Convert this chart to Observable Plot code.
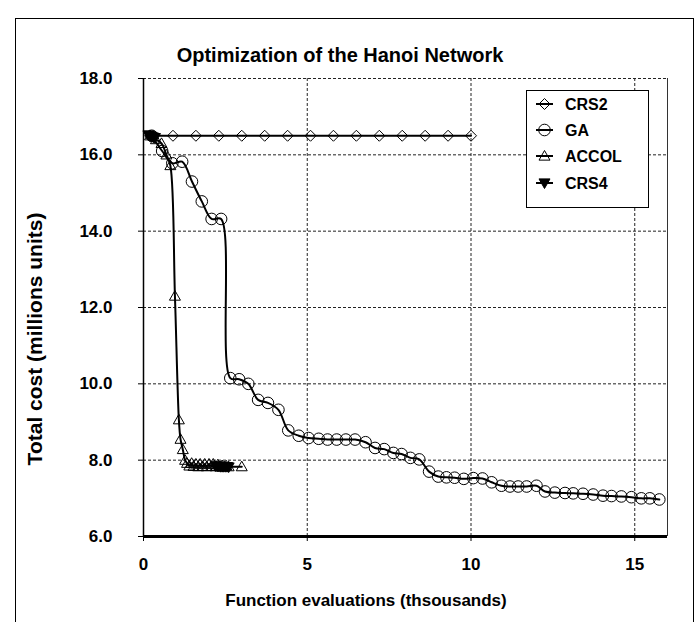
<!DOCTYPE html>
<html>
<head>
<meta charset="utf-8">
<script src="https://cdn.jsdelivr.net/npm/d3@7"></script>
<script src="https://cdn.jsdelivr.net/npm/@observablehq/plot@0.6"></script>
<style>
html, body { margin: 0; padding: 0; background: #fff; overflow: hidden; width: 698px; height: 622px; }
body { position: relative; font-family: "Liberation Sans", Arial, sans-serif; }
#frame { position: absolute; left: 15px; top: 18px; width: 679px; height: 700px; border: 1px solid #000; box-sizing: border-box; }
#chart { position: absolute; left: 0; top: 0; }
#overlay { position: absolute; left: 0; top: 0; }
</style>
</head>
<body>
<div id="frame"></div>
<div id="chart"></div>
<svg id="overlay" width="698" height="622"></svg>
<script>
// ---- data ----
const titleText = "Optimization of the Hanoi Network";
const xLabel = "Function evaluations (thsousands)";
const yLabel = "Total cost (millions units)";
const seriesNames = ["CRS2", "GA", "ACCOL", "CRS4"];
const xTicks = [0, 5, 10, 15];
const yTicks = [6, 8, 10, 12, 14, 16, 18];

const crs2X = [0.2, 0.9, 1.6, 2.3, 3.0, 3.7, 4.4, 5.1, 5.8, 6.5, 7.2, 7.9, 8.6, 9.3, 10.0];
const crs2Y = [16.5, 16.5, 16.5, 16.5, 16.5, 16.5, 16.5, 16.5, 16.5, 16.5, 16.5, 16.5, 16.5, 16.5, 16.5];

const gaX = [0.25, 0.57, 0.88, 1.18, 1.48, 1.78, 2.08, 2.37, 2.65, 2.92, 3.2, 3.5, 3.8, 4.12, 4.42, 4.74, 5.04, 5.35, 5.62, 5.9, 6.18, 6.46, 6.78, 7.07, 7.35, 7.63, 7.88, 8.15, 8.42, 8.72, 9.0, 9.25, 9.5, 9.78, 10.07, 10.35, 10.63, 10.93, 11.19, 11.44, 11.7, 12.0, 12.26, 12.56, 12.87, 13.12, 13.42, 13.73, 14.03, 14.29, 14.59, 14.9, 15.2, 15.46, 15.75];
const gaY = [16.5, 16.1, 15.78, 15.82, 15.3, 14.78, 14.32, 14.32, 10.15, 10.12, 10.0, 9.58, 9.5, 9.32, 8.78, 8.64, 8.58, 8.56, 8.54, 8.54, 8.54, 8.54, 8.47, 8.32, 8.29, 8.19, 8.16, 8.06, 8.02, 7.7, 7.57, 7.55, 7.54, 7.51, 7.53, 7.52, 7.42, 7.33, 7.31, 7.31, 7.31, 7.33, 7.18, 7.15, 7.14, 7.13, 7.12, 7.1, 7.07, 7.06, 7.05, 7.03, 7.0, 7.0, 6.97];

const accolX = [0.2, 0.38, 0.55, 0.7, 0.82, 0.96, 1.08, 1.13, 1.2, 1.27, 1.33, 1.4, 1.47, 1.53, 1.6, 1.67, 1.73, 1.8, 1.87, 1.93, 2.0, 2.07, 2.13, 2.2, 2.27, 2.33, 2.4, 2.47, 2.53, 2.6, 3.0];
const accolY = [16.5, 16.4, 16.3, 16.0, 15.72, 12.3, 9.06, 8.55, 8.28, 8.0, 7.92, 7.85, 7.92, 7.84, 7.9, 7.83, 7.9, 7.84, 7.9, 7.83, 7.9, 7.84, 7.9, 7.83, 7.88, 7.83, 7.86, 7.83, 7.85, 7.83, 7.83];

const crs4X = [0.15, 0.2, 0.25, 0.3, 0.35, null, 2.2, 2.25, 2.3, 2.35, 2.4, 2.45, 2.5, 2.55, 2.6];
const crs4Y = [16.52, 16.5, 16.48, 16.46, 16.45, null, 7.85, 7.84, 7.84, 7.83, 7.83, 7.83, 7.83, 7.83, 7.82];

// ---- symbols ----
const rOf = (size) => Math.sqrt(size / Math.PI);
const diamondSym = { draw(ctx, size) { const r = rOf(size); ctx.moveTo(0, -r); ctx.lineTo(r, 0); ctx.lineTo(0, r); ctx.lineTo(-r, 0); ctx.closePath(); } };
const triUpSym = { draw(ctx, size) { const r = rOf(size); ctx.moveTo(0, -r); ctx.lineTo(r, r * 0.75); ctx.lineTo(-r, r * 0.75); ctx.closePath(); } };
const triDownSym = { draw(ctx, size) { const r = rOf(size); ctx.moveTo(0, r); ctx.lineTo(r, -r * 0.75); ctx.lineTo(-r, -r * 0.75); ctx.closePath(); } };

const rows = (xs, ys) => xs.map((x, i) => ({ x: x == null ? NaN : x, y: ys[i] == null ? NaN : ys[i] }));
const crs2 = rows(crs2X, crs2Y);
const ga = rows(gaX, gaY);
const accol = rows(accolX, accolY);
const crs4 = rows(crs4X, crs4Y);

const styleSpec = [
  { data: crs2, symbol: diamondSym, r: 5.5, fill: "none" },
  { data: ga, symbol: "circle", r: 5.8, fill: "none" },
  { data: accol, symbol: triUpSym, r: 5.5, fill: "none" },
  { data: crs4, symbol: triDownSym, r: 5.5, fill: "#000" }
];

const gridStyle = { stroke: "#222", strokeOpacity: 1, strokeWidth: 1, strokeDasharray: "3,2" };

const marks = [
  Plot.gridY(yTicks, gridStyle),
  Plot.gridX([5, 10, 15], gridStyle),
  Plot.ruleX([16], { stroke: "#333", strokeWidth: 1 })
];
for (const s of styleSpec) {
  marks.push(Plot.line(s.data, { x: "x", y: "y", stroke: "#000", strokeWidth: 2, curve: "catmull-rom" }));
  marks.push(Plot.dot(s.data, { x: "x", y: "y", symbol: s.symbol, r: s.r, stroke: "#000", strokeWidth: 1, fill: s.fill }));
}
marks.push(
  Plot.ruleX([0], { stroke: "#000", strokeWidth: 1.5 }),
  Plot.ruleY([6], { stroke: "#000", strokeWidth: 3 }),
  Plot.axisY({ ticks: yTicks, tickFormat: (d) => d.toFixed(1), tickSize: 5, tickPadding: 26, fontSize: 17, fontWeight: "bold", label: null }),
  Plot.axisX({ ticks: xTicks, tickFormat: (d) => String(d), tickSize: 5, tickPadding: 16, fontSize: 17, fontWeight: "bold", label: null })
);

const chart = Plot.plot({
  width: 698,
  height: 622,
  marginLeft: 143,
  marginRight: 31,
  marginTop: 78,
  marginBottom: 86,
  x: { domain: [0, 16], label: null },
  y: { domain: [6, 18], label: null },
  style: { fontFamily: "'Liberation Sans', Arial, sans-serif", fontWeight: "bold", fontSize: "17px", background: "transparent", color: "#000" },
  marks
});
document.getElementById("chart").appendChild(chart);

// ---- overlay: title, axis labels, legend ----
const ov = d3.select("#overlay");
ov.append("text").attr("x", 340).attr("y", 62).attr("text-anchor", "middle")
  .attr("font-family", "'Liberation Sans', Arial, sans-serif").attr("font-weight", "bold").attr("font-size", 20)
  .text(titleText);
ov.append("text").attr("x", 366).attr("y", 606).attr("text-anchor", "middle")
  .attr("font-family", "'Liberation Sans', Arial, sans-serif").attr("font-weight", "bold").attr("font-size", 17)
  .text(xLabel);
ov.append("text").attr("transform", "translate(42,339) rotate(-90)").attr("text-anchor", "middle")
  .attr("font-family", "'Liberation Sans', Arial, sans-serif").attr("font-weight", "bold").attr("font-size", 21)
  .text(yLabel);

const lg = ov.append("g");
lg.append("rect").attr("x", 526.5).attr("y", 90.5).attr("width", 122).attr("height", 117)
  .attr("fill", "#fff").attr("stroke", "#000").attr("stroke-width", 1);
const legendY = [104, 130, 156, 183];
seriesNames.forEach((name, i) => {
  const y = legendY[i];
  const s = styleSpec[i];
  lg.append("line").attr("x1", 536).attr("x2", 553).attr("y1", y).attr("y2", y).attr("stroke", "#000").attr("stroke-width", 2);
  const sym = s.symbol === "circle" ? d3.symbolCircle : s.symbol;
  lg.append("path").attr("transform", `translate(544.5,${y})`)
    .attr("d", d3.symbol(sym, s.r * s.r * Math.PI)())
    .attr("fill", s.fill).attr("stroke", "#000").attr("stroke-width", 1);
  lg.append("text").attr("x", 565).attr("y", y + 6)
    .attr("font-family", "'Liberation Sans', Arial, sans-serif").attr("font-weight", "bold").attr("font-size", 16)
    .text(name);
});
</script>
</body>
</html>
